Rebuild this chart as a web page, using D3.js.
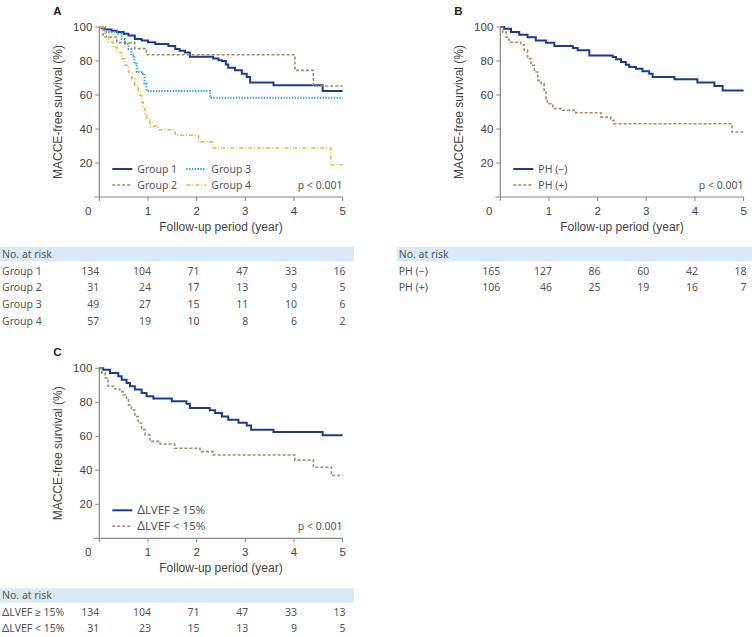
<!DOCTYPE html>
<html>
<head>
<meta charset="utf-8">
<script src="https://cdn.jsdelivr.net/npm/d3@7"></script>
<style>
  body { margin: 0; background: #fff; }
  svg { display: block; }
  .tick-label { font-family: "Liberation Sans", Arial, sans-serif; font-size: 11.5px; fill: #444; }
  .axis-title { font-family: "Liberation Sans", Arial, sans-serif; font-size: 12px; fill: #444; }
  .legend, .table-text { font-family: "Noto Sans", sans-serif; font-size: 10.5px; fill: #555; }
  .panel-label { font-family: "Liberation Sans", Arial, sans-serif; font-size: 11.5px; font-weight: bold; fill: #222; }
</style>
</head>
<body>
<div id="chart"></div>
<script>
// Kaplan-Meier steps: [year, survival %]
var group1 = [[0,100],[0.05,99.3],[0.12,98.6],[0.25,97.8],[0.36,97],[0.5,96],[0.6,95],[0.73,93],[0.87,92],[1.0,91],[1.15,90],[1.42,88.8],[1.56,87],[1.65,86],[1.76,85],[1.86,82.5],[2.34,81.4],[2.45,80.5],[2.52,80],[2.6,78],[2.65,76],[2.79,74.5],[2.93,72.5],[3.03,70.6],[3.1,67.3],[3.58,65.7],[4.59,62.4]];
var group2 = [[0,100],[0.08,94.1],[0.36,90.8],[0.73,87.3],[0.97,83.7],[4.02,74.5],[4.4,65.3]];
var group3 = [[0,100],[0.12,97],[0.39,96],[0.46,93],[0.53,90],[0.6,87],[0.66,83.3],[0.72,78.4],[0.77,73.5],[0.9,72.5],[0.93,66.7],[0.97,62.4],[2.28,58.4]];
var group4 = [[0,100],[0.12,95],[0.19,91],[0.29,88],[0.36,85],[0.46,81.4],[0.53,77.5],[0.6,73.5],[0.67,69.6],[0.73,65.7],[0.8,62.7],[0.84,59.8],[0.87,55.9],[0.9,52],[0.94,49],[0.97,46],[1.04,41.6],[1.21,39.6],[1.56,36.3],[2.04,32.4],[2.33,28.8],[4.76,19]];

var phNeg = [[0,100],[0.08,99],[0.22,97],[0.39,95.5],[0.56,94],[0.73,92],[0.94,90.8],[1.11,88.8],[1.49,87.6],[1.59,86.3],[1.83,83.3],[2.31,82.4],[2.38,81],[2.48,79.4],[2.58,77.8],[2.65,76.5],[2.79,75.5],[2.92,73.9],[3.06,72.5],[3.13,70.6],[3.58,69.2],[4.05,67.3],[4.4,65.3],[4.57,62.7]];
var phPos = [[0,100],[0.05,97],[0.12,94],[0.18,91],[0.42,89.6],[0.49,86.3],[0.56,81.4],[0.63,77.5],[0.7,73.5],[0.77,68.6],[0.84,66.7],[0.9,61.8],[0.94,57.8],[0.97,54.9],[1.08,52],[1.25,51],[1.55,49.6],[2.07,47],[2.27,45],[2.34,43.1],[4.76,38.2]];

var lvefHigh = [[0,100],[0.08,99.2],[0.22,97.3],[0.39,95.3],[0.46,93.3],[0.56,91.4],[0.63,89.4],[0.73,87.5],[0.87,85.5],[0.97,83.5],[1.11,82.2],[1.49,80.6],[1.79,79.2],[1.86,76.7],[2.27,75.3],[2.38,73.7],[2.52,71.6],[2.65,69.8],[2.86,68],[3.03,66.3],[3.12,63.9],[3.58,62.5],[4.59,60.6]];
var lvefLow = [[0,100],[0.05,97.3],[0.12,94.3],[0.18,89.4],[0.32,87.8],[0.42,86.3],[0.49,84.3],[0.56,81.4],[0.6,78.4],[0.66,75.5],[0.73,71.6],[0.8,67.8],[0.87,63.9],[0.94,61],[1.04,57],[1.25,55.5],[1.55,53],[2.07,51],[2.34,49],[4.02,46],[4.4,41.8],[4.77,36.9]];

var xTicks = [0, 1, 2, 3, 4, 5];
var yTicks = [20, 40, 60, 80, 100];

var riskA = [["Group 1", [134,104,71,47,33,16]], ["Group 2", [31,24,17,13,9,5]], ["Group 3", [49,27,15,11,10,6]], ["Group 4", [57,19,10,8,6,2]]];
var riskB = [["PH (\u2212)", [165,127,86,60,42,18]], ["PH (+)", [106,46,25,19,16,7]]];
var riskC = [["\u2265 15%", [134,104,71,47,33,13]], ["< 15%", [31,23,15,13,9,5]]];

var styles = {
  navy:   { color: "#1d3b8f", width: 2,   dash: null },
  brown:  { color: "#a8896c", width: 1.6, dash: "3,2" },
  sky:    { color: "#2fa4dc", width: 2,   dash: "1.4,1.4" },
  orange: { color: "#f2b53f", width: 1.6, dash: "4,2,1,2" }
};

var svg = d3.select("#chart").append("svg").attr("width", 752).attr("height", 637);

function drawPanel(opt) {
  var x = d3.scaleLinear().domain([0, 5]).range([opt.left, opt.left + 243.3]);
  var y = d3.scaleLinear().domain([0, 100]).range([opt.top + 170, opt.top]);
  var g = svg.append("g");

  g.append("text").attr("class", "panel-label")
    .attr("x", opt.left - 46).attr("y", opt.top - 12).text(opt.label);

  // y axis
  g.append("line").attr("x1", x(0)).attr("x2", x(0)).attr("y1", y(100)).attr("y2", y(0))
    .attr("stroke", "#888").attr("stroke-width", 1.2);
  g.selectAll(".ytick").data(yTicks).enter().append("line")
    .attr("x1", x(0) - 4).attr("x2", x(0))
    .attr("y1", function (d) { return y(d); }).attr("y2", function (d) { return y(d); })
    .attr("stroke", "#888");
  g.selectAll(".ylab").data(yTicks).enter().append("text")
    .attr("class", "tick-label").attr("text-anchor", "end")
    .attr("x", x(0) - 7).attr("y", function (d) { return y(d) + 4; })
    .text(function (d) { return d; });

  // x axis
  g.append("line").attr("x1", x(0) - 5).attr("x2", x(5)).attr("y1", y(0)).attr("y2", y(0))
    .attr("stroke", "#888").attr("stroke-width", 1.2);
  g.selectAll(".xtick").data(xTicks).enter().append("line")
    .attr("x1", function (d) { return x(d); }).attr("x2", function (d) { return x(d); })
    .attr("y1", y(0)).attr("y2", y(0) + 4)
    .attr("stroke", "#888");
  g.selectAll(".xlab").data(xTicks).enter().append("text")
    .attr("class", "tick-label").attr("text-anchor", "middle")
    .attr("x", function (d) { return d === 0 ? x(d) - 11 : x(d); })
    .attr("y", y(0) + 18)
    .text(function (d) { return d; });

  g.append("text").attr("class", "axis-title").attr("text-anchor", "middle")
    .attr("x", x(2.5)).attr("y", y(0) + 34).text("Follow-up period (year)");
  g.append("text").attr("class", "axis-title").attr("text-anchor", "middle")
    .attr("transform", "translate(" + (x(0) - 37) + "," + y(50) + ") rotate(-90)")
    .text("MACCE-free survival (%)");

  // curves
  var line = d3.line()
    .x(function (d) { return x(d[0]); })
    .y(function (d) { return y(d[1]); })
    .curve(d3.curveStepAfter);
  opt.series.forEach(function (s) {
    var pts = s.data.concat([[5, s.data[s.data.length - 1][1]]]);
    g.append("path").datum(pts)
      .attr("fill", "none")
      .attr("stroke", s.style.color)
      .attr("stroke-width", s.style.width)
      .attr("stroke-dasharray", s.style.dash)
      .attr("d", line);
  });

  // legend
  opt.series.forEach(function (s, i) {
    var col = opt.legendCols === 2 ? Math.floor(i / 2) : 0;
    var row = opt.legendCols === 2 ? i % 2 : i;
    var lx = x(0) + 13 + col * 74;
    var ly = y(0) - 28 + row * 16;
    g.append("line").attr("x1", lx).attr("x2", lx + 20).attr("y1", ly).attr("y2", ly)
      .attr("stroke", s.style.color).attr("stroke-width", s.style.width)
      .attr("stroke-dasharray", s.style.dash);
    var t = g.append("text").attr("class", "legend").attr("x", lx + 25).attr("y", ly + 3.5);
    if (s.delta) {
      t.append("tspan").attr("font-size", "12px").text("\u0394");
      t.append("tspan").attr("font-size", "11.5px").text("LVEF " + s.name);
    } else {
      t.text(s.name);
    }
  });
  g.append("text").attr("class", "legend").attr("text-anchor", "end")
    .attr("x", x(5)).attr("y", y(0) - 12 + 3.5).text("p < 0.001");

  // number at risk table
  var top = y(0) + 50;
  g.append("rect").attr("x", opt.bandX0).attr("y", top).attr("width", opt.bandX1 - opt.bandX0).attr("height", 14.3)
    .attr("fill", "#d9eaf6");
  g.append("text").attr("class", "table-text").attr("x", opt.bandX0 + 2).attr("y", top + 11).text("No. at risk");
  opt.risk.forEach(function (r, i) {
    var ry = top + 24 + i * opt.rowStep + 3.5;
    var lab = g.append("text").attr("class", "table-text").attr("x", opt.bandX0 + 2).attr("y", ry);
    if (opt.delta) {
      lab.append("tspan").attr("font-size", "11.5px").text("\u0394");
      lab.append("tspan").text("LVEF " + r[0]);
    } else {
      lab.text(r[0]);
    }
    g.selectAll(null).data(r[1]).enter().append("text")
      .attr("class", "table-text").attr("text-anchor", "end")
      .attr("x", function (d, j) { return x(xTicks[j]) + (j === 0 ? 0 : 3); })
      .attr("y", ry)
      .text(function (d) { return d; });
  });
}

drawPanel({
  label: "A", left: 99.3, top: 27, legendCols: 2, bandX0: 0, bandX1: 354, rowStep: 16.7, risk: riskA,
  series: [
    { name: "Group 1", data: group1, style: styles.navy },
    { name: "Group 2", data: group2, style: styles.brown },
    { name: "Group 3", data: group3, style: styles.sky },
    { name: "Group 4", data: group4, style: styles.orange }
  ]
});
drawPanel({
  label: "B", left: 500.3, top: 27, legendCols: 1, bandX0: 396.7, bandX1: 752, rowStep: 16.7, risk: riskB,
  series: [
    { name: "PH (\u2212)", data: phNeg, style: styles.navy },
    { name: "PH (+)", data: phPos, style: styles.brown }
  ]
});
drawPanel({
  label: "C", left: 99.3, top: 368.3, legendCols: 1, bandX0: 0, bandX1: 354, rowStep: 16, risk: riskC, delta: true,
  series: [
    { name: "\u2265 15%", data: lvefHigh, style: styles.navy, delta: true },
    { name: "< 15%", data: lvefLow, style: styles.brown, delta: true }
  ]
});
</script>
</body>
</html>
